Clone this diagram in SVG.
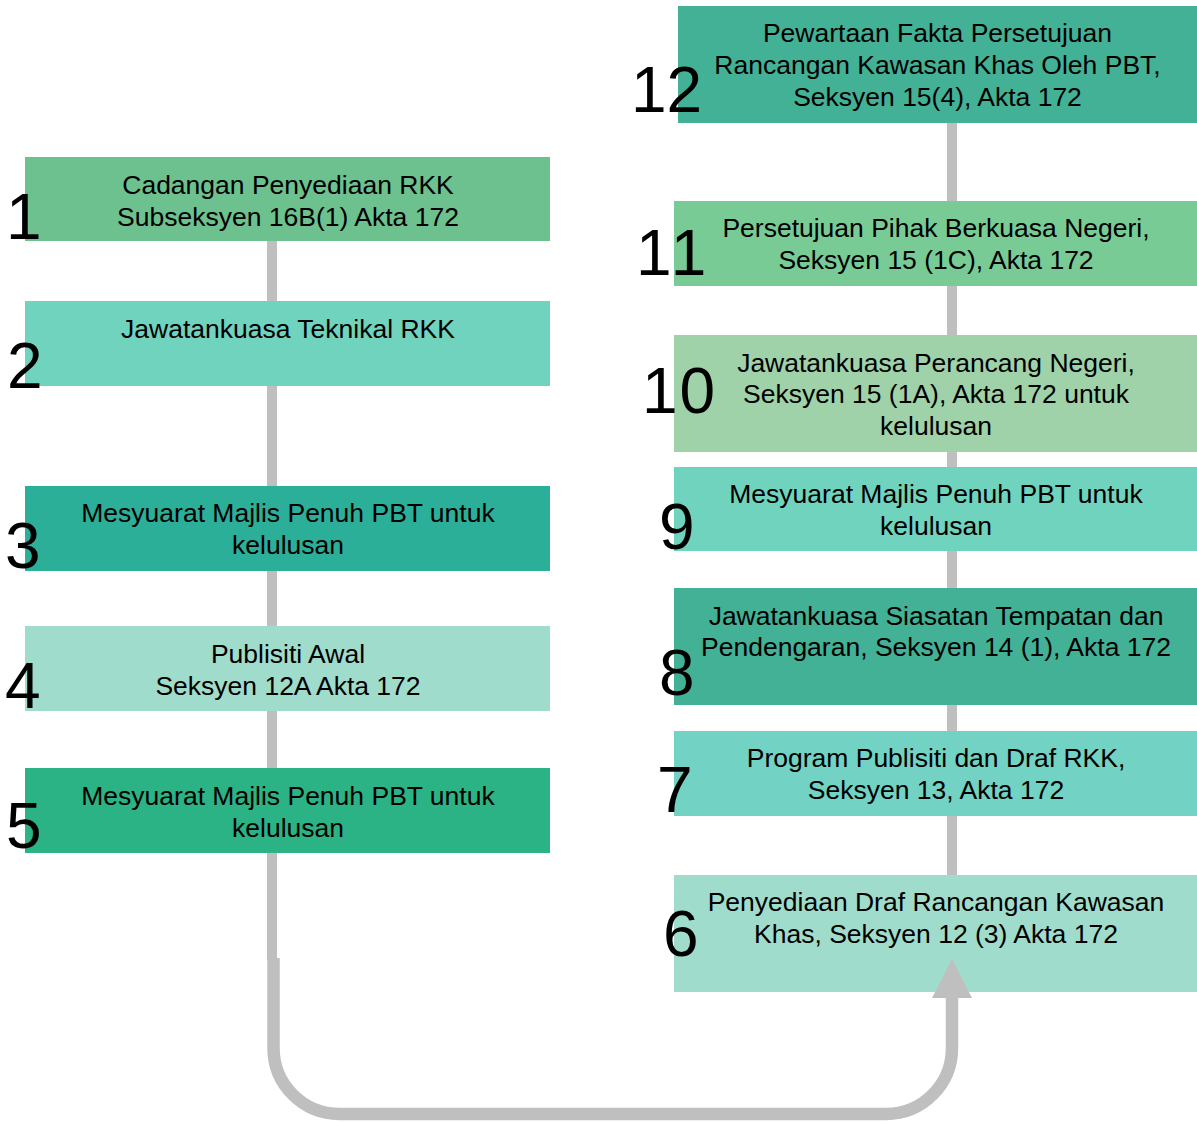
<svg xmlns="http://www.w3.org/2000/svg" width="1197" height="1122" viewBox="0 0 1197 1122">
<style>
.t{font-family:"Liberation Sans",Arial,sans-serif;font-size:26.5px;fill:#000;text-anchor:middle}
.n{font-family:"Liberation Sans",Arial,sans-serif;font-size:64px;fill:#000}
.ln{fill:#BFBFBF}
</style>
<rect width="1197" height="1122" fill="#fff"/>
<g id="node1"><rect x="25" y="157" width="525" height="84" fill="#6CC18F"/><text class="t" x="288" y="194">Cadangan Penyediaan RKK</text><text class="t" x="288" y="226">Subseksyen 16B(1) Akta 172</text><text class="n" x="6" y="239">1</text></g>
<g id="node2"><rect x="25" y="301" width="525" height="85" fill="#70D3BE"/><text class="t" x="288" y="338">Jawatankuasa Teknikal RKK</text><text class="n" x="7" y="388">2</text></g>
<g id="node3"><rect x="25" y="486" width="525" height="85" fill="#2BAF98"/><text class="t" x="288" y="522">Mesyuarat Majlis Penuh PBT untuk</text><text class="t" x="288" y="554">kelulusan</text><text class="n" x="5" y="568">3</text></g>
<g id="node4"><rect x="25" y="626" width="525" height="85" fill="#A0DCCC"/><text class="t" x="288" y="663">Publisiti Awal</text><text class="t" x="288" y="695">Seksyen 12A Akta 172</text><text class="n" x="5" y="708">4</text></g>
<g id="node5"><rect x="25" y="768" width="525" height="85" fill="#2BB385"/><text class="t" x="288" y="805">Mesyuarat Majlis Penuh PBT untuk</text><text class="t" x="288" y="837">kelulusan</text><text class="n" x="6" y="848">5</text></g>
<g id="node6"><rect x="674" y="875" width="523" height="117" fill="#A0DCCC"/><text class="t" x="936" y="911">Penyediaan Draf Rancangan Kawasan</text><text class="t" x="936" y="943">Khas, Seksyen 12 (3) Akta 172</text><text class="n" x="663" y="956">6</text></g>
<g id="node7"><rect x="674" y="731" width="523" height="85" fill="#72D2C3"/><text class="t" x="936" y="767">Program Publisiti dan Draf RKK,</text><text class="t" x="936" y="799">Seksyen 13, Akta 172</text><text class="n" x="657" y="812">7</text></g>
<g id="node8"><rect x="674" y="588" width="523" height="117" fill="#43B195"/><text class="t" x="936" y="625">Jawatankuasa Siasatan Tempatan dan</text><text class="t" x="936" y="656">Pendengaran, Seksyen 14 (1), Akta 172</text><text class="n" x="659" y="695">8</text></g>
<g id="node9"><rect x="674" y="467" width="523" height="84" fill="#70D3BE"/><text class="t" x="936" y="503">Mesyuarat Majlis Penuh PBT untuk</text><text class="t" x="936" y="535">kelulusan</text><text class="n" x="659" y="549">9</text></g>
<g id="node10"><rect x="674" y="335" width="523" height="117" fill="#9FD2A9"/><text class="t" x="936" y="372">Jawatankuasa Perancang Negeri,</text><text class="t" x="936" y="403">Seksyen 15 (1A), Akta 172 untuk</text><text class="t" x="936" y="435">kelulusan</text><text class="n" x="642" y="413" letter-spacing="2">10</text></g>
<g id="node11"><rect x="674" y="201" width="523" height="85" fill="#79CB96"/><text class="t" x="936" y="237">Persetujuan Pihak Berkuasa Negeri,</text><text class="t" x="936" y="269">Seksyen 15 (1C), Akta 172</text><text class="n" x="636" y="275" font-size="62" letter-spacing="4">11</text></g>
<g id="node12"><rect x="678" y="6" width="519" height="117" fill="#43B195"/><text class="t" x="937.5" y="42">Pewartaan Fakta Persetujuan</text><text class="t" x="937.5" y="74">Rancangan Kawasan Khas Oleh PBT,</text><text class="t" x="937.5" y="106">Seksyen 15(4), Akta 172</text><text class="n" x="631" y="112" font-size="67">12</text></g>
<g id="connectors">
<rect class="ln" x="267" y="241" width="10" height="60"/>
<rect class="ln" x="267" y="386" width="10" height="100"/>
<rect class="ln" x="267" y="571" width="10" height="55"/>
<rect class="ln" x="267" y="711" width="10" height="57"/>
<rect class="ln" x="267" y="853" width="10" height="107"/>
<path d="M273.5 958 V1048 A66 66 0 0 0 339.5 1114 H886 A66 66 0 0 0 952 1048 V996" fill="none" stroke="#BFBFBF" stroke-width="12.5"/>
<polygon class="ln" points="932,998 972,998 952,959"/>
<rect class="ln" x="947" y="123" width="10" height="78"/>
<rect class="ln" x="947" y="286" width="10" height="49"/>
<rect class="ln" x="947" y="452" width="10" height="15"/>
<rect class="ln" x="947" y="551" width="10" height="37"/>
<rect class="ln" x="947" y="705" width="10" height="26"/>
<rect class="ln" x="947" y="816" width="10" height="59"/>
</g>
</svg>
